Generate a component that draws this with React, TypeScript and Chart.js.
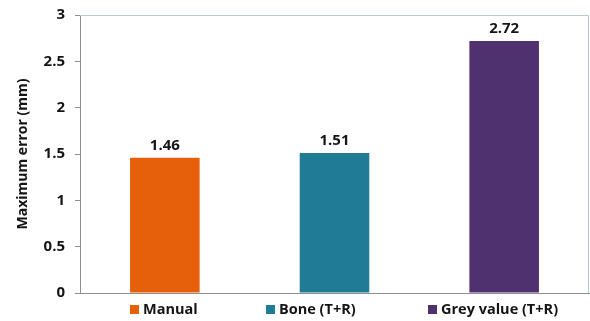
import React, { useEffect, useRef } from "react";
import { Chart, registerables } from "chart.js";

Chart.register(...registerables);

const categories = ["Manual", "Bone (T+R)", "Grey value (T+R)"];
const values = [1.46, 1.51, 2.72];
const barColors = ["#E6600B", "#1F7B96", "#4F3170"];
const yMin = 0;
const yMax = 3;
const yStep = 0.5;
const yTitle = "Maximum error (mm)";

const FONT = "'Open Sans', 'DejaVu Sans', sans-serif";
const TEXT = "#151515";
const AXIS = "#8e8e8e";
const FRAME = "#b7cbd6";
const legendX = [130, 266, 428];

const framePlugin = {
  id: "frame",
  afterDatasetsDraw(chart: any) {
    const { ctx, chartArea } = chart;
    ctx.save();
    ctx.strokeStyle = FRAME;
    ctx.lineWidth = 1;
    ctx.beginPath();
    ctx.moveTo(chartArea.left, Math.round(chartArea.top) + 0.5);
    ctx.lineTo(Math.round(chartArea.right) - 0.5, Math.round(chartArea.top) + 0.5);
    ctx.lineTo(Math.round(chartArea.right) - 0.5, chartArea.bottom);
    ctx.stroke();
    ctx.restore();
  },
};

const labelPlugin = {
  id: "valueLabels",
  afterDatasetsDraw(chart: any) {
    const { ctx } = chart;
    const meta = chart.getDatasetMeta(0);
    ctx.save();
    ctx.font = `bold 15px ${FONT}`;
    ctx.fillStyle = TEXT;
    ctx.textAlign = "center";
    ctx.textBaseline = "alphabetic";
    meta.data.forEach((el: any, i: number) => {
      ctx.fillText(values[i].toFixed(2), el.x, el.y - 8);
    });
    ctx.restore();
  },
};

const legendPlugin = {
  id: "customLegend",
  afterDraw(chart: any) {
    const { ctx } = chart;
    ctx.save();
    ctx.font = `bold 14.5px ${FONT}`;
    ctx.textBaseline = "middle";
    ctx.textAlign = "left";
    categories.forEach((c, i) => {
      const x = legendX[i];
      ctx.fillStyle = barColors[i];
      ctx.fillRect(x, 305, 9, 9);
      ctx.fillStyle = TEXT;
      ctx.fillText(c, x + 13, 309.5);
    });
    ctx.restore();
  },
};

export default function App() {
  const ref = useRef<HTMLCanvasElement>(null);
  useEffect(() => {
    document.body.style.margin = "0";
    const chart = new Chart(ref.current!, {
      type: "bar",
      data: {
        labels: categories,
        datasets: [
          {
            data: values,
            backgroundColor: barColors,
            borderWidth: 0,
            barPercentage: 0.41,
            categoryPercentage: 1,
          },
        ],
      },
      options: {
        animation: false,
        responsive: true,
        maintainAspectRatio: false,
        layout: { padding: { left: 0, right: 1, top: 15, bottom: 28 } },
        plugins: { legend: { display: false }, tooltip: { enabled: false } },
        scales: {
          x: {
            ticks: { display: false },
            grid: { display: true, drawOnChartArea: false, drawTicks: false },
            border: { display: true, color: AXIS, width: 1 },
            afterFit: (s: any) => {
              s.height = 0;
              s.paddingLeft = 0;
              s.paddingRight = 0;
            },
          },
          y: {
            min: yMin,
            max: yMax,
            ticks: {
              stepSize: yStep,
              padding: 10,
              color: TEXT,
              font: { family: FONT, size: 15, weight: "bold" },
              callback: (v: any) => String(Number(v)),
            },
            grid: { drawOnChartArea: false, drawTicks: true, tickLength: 5, color: AXIS },
            border: { display: true, color: AXIS, width: 1 },
            title: {
              display: true,
              text: yTitle,
              color: TEXT,
              padding: { top: 15, bottom: 0 },
              font: { family: FONT, size: 14, weight: "bold" },
            },
            afterFit: (s: any) => {
              s.width = 80;
              s.paddingTop = 0;
              s.paddingBottom = 0;
            },
          },
        },
      },
      plugins: [framePlugin, labelPlugin, legendPlugin],
    });
    return () => chart.destroy();
  }, []);
  return (
    <div style={{ width: 590, height: 321, position: "relative", background: "#fff" }}>
      <canvas ref={ref} />
    </div>
  );
}
